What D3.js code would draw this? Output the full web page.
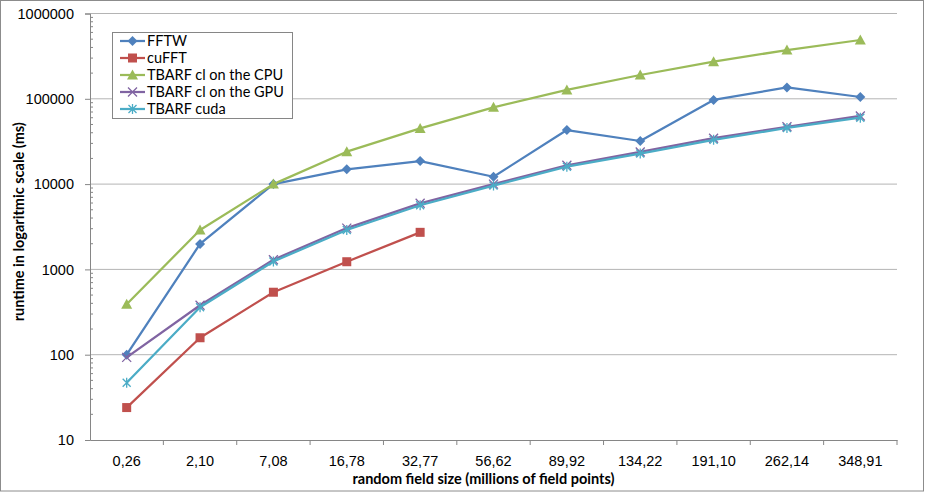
<!DOCTYPE html>
<html>
<head>
<meta charset="utf-8">
<script src="https://cdn.jsdelivr.net/npm/d3@7"></script>
<style>
  body { margin: 0; background: #fff; }
  svg { display: block; font-family: Lato, "Open Sans", sans-serif; }
</style>
</head>
<body>
<div id="container"></div>
<script>
// Field sizes (millions of field points) on the x axis
const categories = ['0,26', '2,10', '7,08', '16,78', '32,77', '56,62', '89,92', '134,22', '191,10', '262,14', '348,91'];

// Runtimes in ms
const fftw = [100, 1990, 10000, 14900, 18600, 12200, 43000, 32000, 97000, 136000, 105000];
const cufft = [24, 158, 540, 1230, 2720];
const tbarfCpu = [390, 2900, 10000, 24000, 45000, 79500, 127000, 190000, 272000, 373000, 489000];
const tbarfGpu = [93, 380, 1300, 3050, 5950, 10000, 16600, 23800, 34500, 47000, 63000];
const tbarfCuda = [47, 360, 1240, 2900, 5650, 9600, 16000, 22800, 33000, 45500, 60000];

const yTicks = [10, 100, 1000, 10000, 100000, 1000000];

const series = [
  { name: 'FFTW', values: fftw, color: '#4f81bd', marker: 'diamond' },
  { name: 'cuFFT', values: cufft, color: '#c0504d', marker: 'square' },
  { name: 'TBARF cl on the CPU', values: tbarfCpu, color: '#9bbb59', marker: 'triangle' },
  { name: 'TBARF cl on the GPU', values: tbarfGpu, color: '#8064a2', marker: 'x' },
  { name: 'TBARF cuda', values: tbarfCuda, color: '#4bacc6', marker: 'star' }
];

const W = 925, H = 492;
const plot = { left: 90, right: 897, top: 13.5, bottom: 440 };

const svg = d3.select('#container').append('svg')
  .attr('width', W)
  .attr('height', H);

// outer chart border
svg.append('rect')
  .attr('x', 0.5).attr('y', 0.5)
  .attr('width', W - 2).attr('height', H - 1.5)
  .attr('fill', '#fff')
  .attr('stroke', '#8c8c8c');

const x = d3.scaleBand()
  .domain(categories)
  .range([plot.left, plot.right])
  .padding(0);

const y = d3.scaleLog()
  .domain([10, 1000000])
  .range([plot.bottom, plot.top]);

const cx = i => x(categories[i]) + x.bandwidth() / 2;

// horizontal gridlines
svg.append('g')
  .selectAll('line')
  .data(yTicks.slice(1))
  .join('line')
  .attr('x1', plot.left).attr('x2', plot.right)
  .attr('y1', d => y(d)).attr('y2', d => y(d))
  .attr('stroke', '#b4b4b4')
  .attr('stroke-width', 1);

// y axis
const yAxis = svg.append('g')
  .attr('transform', `translate(${plot.left},0)`)
  .call(d3.axisLeft(y).tickValues(yTicks).tickFormat(d3.format('d')).tickSize(5).tickPadding(11));
yAxis.select('.domain').attr('stroke', '#868686');
yAxis.selectAll('.tick line').attr('stroke', '#868686');
yAxis.selectAll('.tick text')
  .attr('font-size', 14.5)
  .attr('fill', '#000');

// minor ticks inside the plot
const minor = [];
for (let d = 10; d < 1000000; d *= 10) {
  for (let k = 2; k <= 9; k++) minor.push(d * k);
}
svg.append('g')
  .selectAll('line')
  .data(minor)
  .join('line')
  .attr('x1', plot.left).attr('x2', plot.left + 3)
  .attr('y1', d => y(d)).attr('y2', d => y(d))
  .attr('stroke', '#868686');

// x axis
const xAxis = svg.append('g')
  .attr('transform', `translate(0,${plot.bottom})`)
  .call(d3.axisBottom(x).tickSize(0).tickPadding(16));
xAxis.select('.domain').attr('stroke', '#868686');
xAxis.selectAll('.tick text')
  .attr('font-size', 14.5)
  .attr('fill', '#000');

// x tick marks sit between categories
const bounds = categories.map(c => x(c)).concat([plot.right]).slice(1);
svg.append('g')
  .selectAll('line')
  .data(bounds)
  .join('line')
  .attr('x1', d => d).attr('x2', d => d)
  .attr('y1', plot.bottom).attr('y2', plot.bottom + 5)
  .attr('stroke', '#868686');

// axis titles
svg.append('text')
  .attr('x', (plot.left + plot.right) / 2 - 10)
  .attr('y', 484)
  .attr('text-anchor', 'middle')
  .attr('font-size', 14.5)
  .attr('font-weight', 'bold')
  .text('random field size (millions of field points)');

svg.append('text')
  .attr('transform', `translate(24,${(plot.top + plot.bottom) / 2 - 5}) rotate(-90)`)
  .attr('text-anchor', 'middle')
  .attr('font-size', 14.5)
  .attr('font-weight', 'bold')
  .text('runtime in logaritmic scale (ms)');

function drawMarker(g, type, color) {
  if (type === 'diamond') {
    g.append('path').attr('d', 'M0,-5L5,0L0,5L-5,0Z').attr('fill', color);
  } else if (type === 'square') {
    g.append('rect').attr('x', -4.5).attr('y', -4.5).attr('width', 9).attr('height', 9).attr('fill', color);
  } else if (type === 'triangle') {
    g.append('path').attr('d', 'M0,-5.5L5.5,4.5L-5.5,4.5Z').attr('fill', color);
  } else if (type === 'x') {
    g.append('path').attr('d', 'M-4.5,-4.5L4.5,4.5M-4.5,4.5L4.5,-4.5')
      .attr('stroke', color).attr('stroke-width', 1.3).attr('fill', 'none');
  } else if (type === 'star') {
    g.append('path').attr('d', 'M-4,-4L4,4M-4,4L4,-4M0,-5L0,5')
      .attr('stroke', color).attr('stroke-width', 1.3).attr('fill', 'none');
  }
}

const line = d3.line()
  .x((d, i) => cx(i))
  .y(d => y(d));

series.forEach(s => {
  const g = svg.append('g');
  g.append('path')
    .datum(s.values)
    .attr('d', line)
    .attr('fill', 'none')
    .attr('stroke', s.color)
    .attr('stroke-width', 2.25)
    .attr('stroke-linejoin', 'round');
  s.values.forEach((v, i) => {
    const m = g.append('g').attr('transform', `translate(${cx(i)},${y(v)})`);
    drawMarker(m, s.marker, s.color);
  });
});

// legend
const legend = svg.append('g');
legend.append('rect')
  .attr('x', 112.5).attr('y', 32.5)
  .attr('width', 180).attr('height', 86)
  .attr('fill', '#fff')
  .attr('stroke', '#868686');

series.forEach((s, i) => {
  const ly = 41 + i * 17;
  const row = legend.append('g');
  row.append('line')
    .attr('x1', 120).attr('x2', 145)
    .attr('y1', ly).attr('y2', ly)
    .attr('stroke', s.color)
    .attr('stroke-width', 2.25);
  drawMarker(row.append('g').attr('transform', `translate(132.5,${ly})`), s.marker, s.color);
  row.append('text')
    .attr('x', 147).attr('y', ly)
    .attr('dy', '0.35em')
    .attr('font-size', 14.5)
    .text(s.name);
});
</script>
</body>
</html>
